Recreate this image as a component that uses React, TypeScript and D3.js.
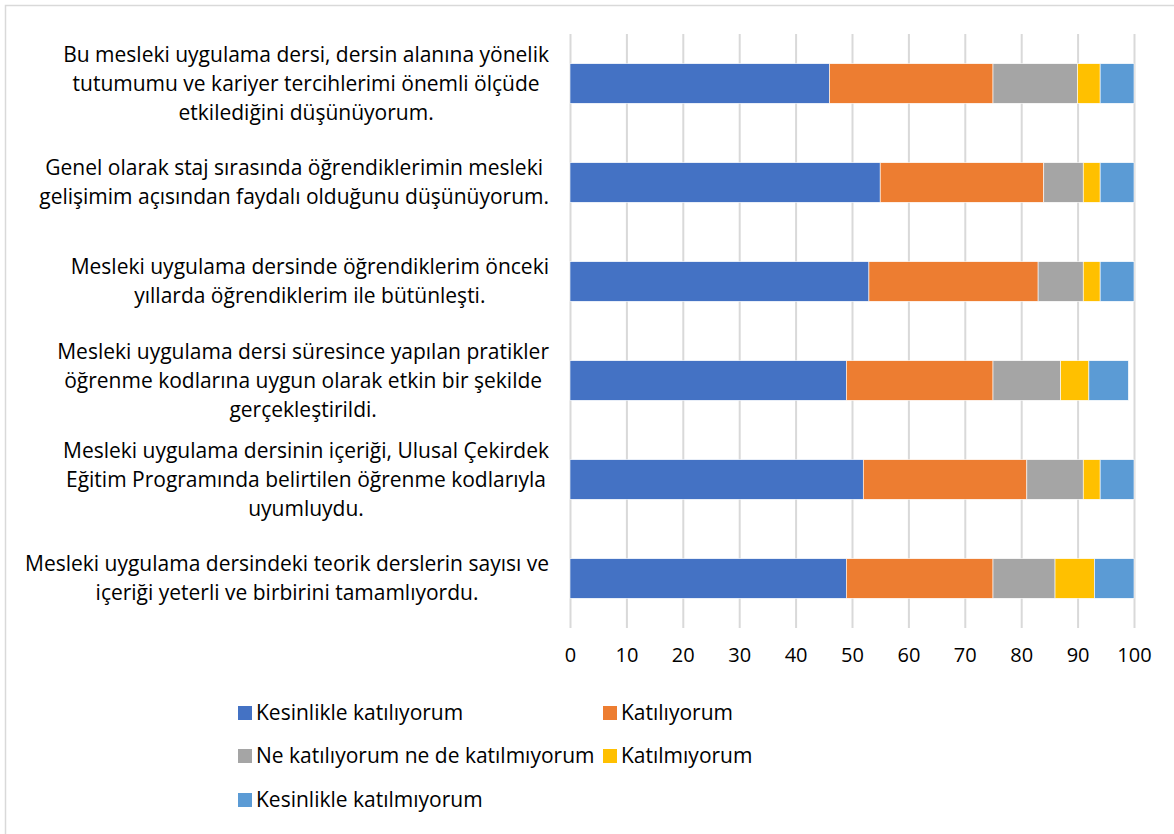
import { useRef, useEffect } from 'react'
import * as d3 from 'd3'

const WIDTH = 1174
const HEIGHT = 834
const MARGIN = { top: 34, right: 40, bottom: 206, left: 570 }
const FONT = "'Open Sans', 'Noto Sans', sans-serif"

// statements, top to bottom; each entry holds the wrapped lines
const CATEGORIES: string[][] = [
  ['Bu mesleki uygulama dersi, dersin alanına yönelik', 'tutumumu ve kariyer tercihlerimi önemli ölçüde', 'etkilediğini düşünüyorum.'],
  ['Genel olarak staj sırasında öğrendiklerimin mesleki', 'gelişimim açısından faydalı olduğunu düşünüyorum.'],
  ['Mesleki uygulama dersinde öğrendiklerim önceki', 'yıllarda öğrendiklerim ile bütünleşti.'],
  ['Mesleki uygulama dersi süresince yapılan pratikler', 'öğrenme kodlarına uygun olarak etkin bir şekilde', 'gerçekleştirildi.'],
  ['Mesleki uygulama dersinin içeriği, Ulusal Çekirdek', 'Eğitim Programında belirtilen öğrenme kodlarıyla', 'uyumluydu.'],
  ['Mesleki uygulama dersindeki teorik derslerin sayısı ve', 'içeriği yeterli ve birbirini tamamlıyordu.'],
]

const SERIES = [
  'Kesinlikle katılıyorum',
  'Katılıyorum',
  'Ne katılıyorum ne de katılmıyorum',
  'Katılmıyorum',
  'Kesinlikle katılmıyorum',
]
const COLORS = ['#4472c4', '#ed7d31', '#a5a5a5', '#ffc000', '#5b9bd5']

const strongAgree = [46, 55, 53, 49, 52, 49]
const agree = [29, 29, 30, 26, 29, 26]
const neutral = [15, 7, 8, 12, 10, 11]
const disagree = [4, 3, 3, 5, 3, 7]
const strongDisagree = [6, 6, 6, 7, 6, 7]

const X_TICKS = [0, 10, 20, 30, 40, 50, 60, 70, 80, 90, 100]

export default function App() {
  const svgRef = useRef<SVGSVGElement>(null)

  useEffect(() => {
    if (!svgRef.current) return
    const svg = d3.select(svgRef.current)
    svg.selectAll('*').remove()

    const innerWidth = WIDTH - MARGIN.left - MARGIN.right
    const innerHeight = HEIGHT - MARGIN.top - MARGIN.bottom

    svg.append('rect')
      .attr('x', 5.5).attr('y', 5.5)
      .attr('width', WIDTH + 20).attr('height', HEIGHT + 20)
      .attr('fill', '#fff').attr('stroke', '#d9d9d9').attr('stroke-width', 1.5)

    const g = svg.append('g').attr('transform', `translate(${MARGIN.left},${MARGIN.top})`)

    const rows = CATEGORIES.map((lines, i) => ({
      key: String(i),
      lines,
      values: [strongAgree[i], agree[i], neutral[i], disagree[i], strongDisagree[i]],
    }))

    const x = d3.scaleLinear().domain([0, 100]).range([0, innerWidth])
    const y = d3.scaleBand().domain(rows.map((r) => r.key)).range([0, innerHeight]).paddingInner(0.6).paddingOuter(0.3)

    // grid + x axis labels
    g.append('g')
      .attr('transform', `translate(0,${innerHeight})`)
      .call(d3.axisBottom(x).tickValues(X_TICKS).tickSize(-innerHeight).tickPadding(20))
      .call((axis) => {
        axis.select('.domain').remove()
        axis.selectAll('.tick line').attr('stroke', '#d9d9d9').attr('stroke-width', 2)
        axis.selectAll('text').attr('fill', '#000').style('font-size', '20px').style('font-family', FONT)
      })

    // stacked bars
    const stacked = rows.map((r) => {
      let acc = 0
      return r.values.map((v, s) => {
        const seg = { key: r.key, s, x0: acc, x1: acc + v }
        acc += v
        return seg
      })
    }).flat()

    g.selectAll('rect.seg')
      .data(stacked)
      .join('rect')
      .attr('class', 'seg')
      .attr('x', (d) => x(d.x0))
      .attr('y', (d) => y(d.key) ?? 0)
      .attr('width', (d) => x(d.x1) - x(d.x0))
      .attr('height', y.bandwidth())
      .attr('fill', (d) => COLORS[d.s])
      .attr('stroke', '#fff')
      .attr('stroke-width', 0.6)

    // category labels: lines centred in a block that sits right of the axis
    const lineH = 29
    const labelRight = -21
    rows.forEach((r) => {
      const cy = (y(r.key) ?? 0) + y.bandwidth() / 2
      const lg = g.append('g')
      const texts = r.lines.map((line, k) =>
        lg.append('text')
          .attr('y', cy + (k - (r.lines.length - 1) / 2) * lineH)
          .attr('dy', '0.35em')
          .attr('text-anchor', 'middle')
          .style('font-size', '21px')
          .style('font-family', FONT)
          .attr('fill', '#000')
          .text(line),
      )
      const widths = texts.map((t) => (t.node() as SVGTextElement).getComputedTextLength())
      const blockW = d3.max(widths) ?? 0
      texts.forEach((t) => t.attr('x', labelRight - blockW / 2))
    })

    // legend
    const legend = svg.append('g')
    const legendPos = [
      [238, 713], [603, 713],
      [238, 756], [603, 756],
      [238, 800],
    ]
    SERIES.forEach((name, i) => {
      const [lx, ly] = legendPos[i]
      legend.append('rect')
        .attr('x', lx).attr('y', ly - 7).attr('width', 14).attr('height', 14)
        .attr('fill', COLORS[i])
      legend.append('text')
        .attr('x', lx + 18).attr('y', ly)
        .attr('dy', '0.35em')
        .style('font-size', '21px')
        .style('font-family', FONT)
        .attr('fill', '#000')
        .text(name)
    })
  }, [])

  return (
    <svg
      ref={svgRef}
      width={WIDTH}
      height={HEIGHT}
      style={{ position: 'absolute', left: 0, top: 0, display: 'block' }}
    />
  )
}
